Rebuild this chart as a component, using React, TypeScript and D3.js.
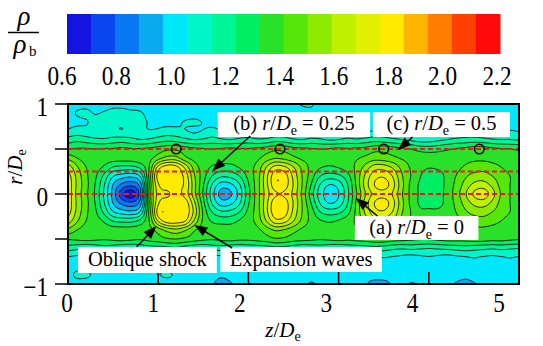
import React, { useMemo } from 'react';
import * as d3 from 'd3';

// grid spacing of the sampled field
const Z_STEP = 0.1;
const R_STEP = 0.1;
const R_TOP = 1;
const FINE = 4; // resample factor used for drawing smooth contours

// rho / rho_b every 0.1 in z (0 .. 5)
// upper half: r = 1.0 down to r = 0.0
const upperRows = [
  [1.01,1.02,1.02,1.01,1.02,1.03,1.02,1.01,1.02,1.02, 1.01,1.00,1.01,1.02,1.01,1.00,1.01,1.02,1.01,1.00, 1.01,1.02,1.01,1.00,1.01,1.03,1.05,1.05,1.02,1.01, 1.01,1.00,1.01,1.02,1.01,1.00,1.01,1.02,1.01,1.00, 1.01,1.02,1.01,1.00,1.01,1.02,1.01,1.00,1.01,1.02, 1.01],
  [1.02,1.05,1.06,1.04,1.05,1.06,1.07,1.06,1.05,1.03, 1.02,1.01,1.02,1.01,1.00,1.01,1.02,1.01,1.00,1.01, 1.02,1.01,1.00,1.01,1.02,1.01,1.02,1.03,1.02,1.01, 1.00,1.01,1.02,1.01,1.00,1.01,1.02,1.01,1.00,1.01, 1.02,1.01,1.00,1.01,1.02,1.01,1.00,1.01,1.02,1.01, 1.00],
  [1.02,1.03,1.04,1.06,1.07,1.05,1.06,1.07,1.06,1.04, 1.03,1.02,1.03,1.05,1.06,1.04,1.02,1.01,1.02,1.03, 1.02,1.01,1.02,1.03,1.02,1.01,1.02,1.02,1.01,1.00, 1.01,1.02,1.01,1.00,1.01,1.02,1.01,1.00,1.01,1.02, 1.01,1.00,1.01,1.02,1.01,1.00,1.01,1.02,1.01,1.00, 1.01],
  [1.06,1.08,1.07,1.06,1.08,1.07,1.05,1.08,1.07,1.05, 1.06,1.08,1.07,1.05,1.03,1.05,1.07,1.05,1.03,1.04, 1.06,1.05,1.03,1.05,1.06,1.04,1.03,1.05,1.04,1.02, 1.03,1.05,1.04,1.03,1.05,1.06,1.04,1.03,1.02,1.02, 1.03,1.04,1.03,1.05,1.06,1.05,1.04,1.03,1.04,1.05, 1.04],
  [1.18,1.20,1.18,1.16,1.15,1.17,1.18,1.16,1.14,1.15, 1.18,1.20,1.19,1.16,1.14,1.15,1.17,1.15,1.14,1.16, 1.17,1.15,1.16,1.19,1.18,1.15,1.14,1.16,1.15,1.13, 1.14,1.16,1.15,1.17,1.19,1.18,1.16,1.14,1.12,1.10, 1.10,1.12,1.14,1.16,1.17,1.18,1.17,1.15,1.14,1.14, 1.13],
  [1.30,1.32,1.32,1.31,1.32,1.32,1.33,1.32,1.32,1.33, 1.35,1.38,1.38,1.35,1.33,1.32,1.31,1.32,1.33,1.32, 1.32,1.33,1.35,1.38,1.37,1.34,1.33,1.32,1.31,1.32, 1.33,1.32,1.33,1.34,1.37,1.37,1.35,1.33,1.31,1.28, 1.27,1.28,1.30,1.32,1.33,1.35,1.35,1.33,1.32,1.31, 1.30],
  [1.46,1.40,1.36,1.35,1.35,1.35,1.35,1.35,1.36,1.37, 1.45,1.52,1.52,1.42,1.37,1.35,1.35,1.35,1.35,1.35, 1.36,1.38,1.44,1.48,1.46,1.42,1.38,1.36,1.35,1.35, 1.36,1.37,1.39,1.42,1.45,1.44,1.42,1.39,1.37,1.36, 1.35,1.35,1.35,1.35,1.37,1.38,1.38,1.37,1.36,1.35, 1.34],
  [1.62,1.50,1.40,1.35,1.30,1.22,1.20,1.20,1.25,1.40, 1.70,1.80,1.78,1.64,1.45,1.36,1.30,1.28,1.28,1.32, 1.37,1.43,1.58,1.70,1.68,1.58,1.46,1.37,1.32,1.30, 1.32,1.36,1.42,1.52,1.62,1.62,1.56,1.46,1.39,1.35, 1.32,1.33,1.35,1.37,1.41,1.44,1.45,1.43,1.40,1.37, 1.36],
  [1.70,1.55,1.42,1.33,1.20,1.05,1.00,0.98,1.05,1.42, 1.80,1.83,1.82,1.72,1.50,1.35,1.22,1.15,1.16,1.22, 1.34,1.45,1.64,1.82,1.80,1.64,1.48,1.35,1.22,1.18, 1.20,1.28,1.43,1.60,1.72,1.74,1.66,1.50,1.40,1.32, 1.25,1.26,1.34,1.40,1.47,1.52,1.53,1.49,1.44,1.40, 1.37],
  [1.72,1.56,1.43,1.31,1.14,0.95,0.84,0.80,0.90,1.40, 1.74,1.80,1.76,1.74,1.52,1.32,1.12,1.00,1.02,1.12, 1.30,1.45,1.64,1.82,1.80,1.66,1.48,1.30,1.12,1.04, 1.08,1.22,1.42,1.62,1.76,1.80,1.70,1.52,1.38,1.30, 1.26,1.26,1.34,1.42,1.52,1.60,1.62,1.56,1.46,1.40, 1.37],
  [1.72,1.55,1.42,1.30,1.12,0.92,0.72,0.64,0.82,1.42, 1.70,1.74,1.78,1.72,1.52,1.30,1.08,0.92,0.94,1.08, 1.28,1.45,1.62,1.74,1.74,1.64,1.46,1.26,1.08,1.00, 1.04,1.20,1.40,1.58,1.70,1.72,1.66,1.50,1.38,1.30, 1.27,1.28,1.34,1.44,1.56,1.68,1.72,1.62,1.48,1.40, 1.37],
];

// lower half: r = -0.1 down to r = -1.0
const lowerRows = [
  [1.72,1.56,1.43,1.31,1.14,0.95,0.84,0.80,0.90,1.40, 1.74,1.80,1.76,1.80,1.60,1.34,1.12,1.00,1.02,1.12, 1.30,1.45,1.64,1.82,1.80,1.66,1.48,1.30,1.12,1.04, 1.08,1.22,1.42,1.62,1.76,1.80,1.70,1.52,1.38,1.30, 1.28,1.28,1.34,1.42,1.52,1.60,1.62,1.56,1.46,1.40, 1.37],
  [1.70,1.55,1.42,1.33,1.20,1.05,1.00,0.98,1.05,1.42, 1.80,1.84,1.82,1.82,1.64,1.38,1.22,1.15,1.16,1.22, 1.34,1.45,1.64,1.82,1.80,1.64,1.48,1.35,1.22,1.18, 1.20,1.28,1.43,1.60,1.72,1.74,1.66,1.50,1.40,1.33, 1.33,1.33,1.35,1.40,1.47,1.52,1.53,1.49,1.44,1.40, 1.37],
  [1.62,1.50,1.40,1.35,1.30,1.22,1.20,1.20,1.25,1.40, 1.68,1.80,1.80,1.76,1.56,1.38,1.30,1.28,1.28,1.32, 1.37,1.43,1.58,1.72,1.70,1.58,1.46,1.37,1.32,1.30, 1.32,1.36,1.42,1.52,1.62,1.62,1.56,1.46,1.39,1.36, 1.35,1.35,1.35,1.37,1.41,1.44,1.45,1.43,1.40,1.37, 1.36],
  [1.46,1.40,1.36,1.35,1.35,1.35,1.35,1.35,1.36,1.37, 1.44,1.52,1.55,1.50,1.41,1.36,1.35,1.35,1.35,1.35, 1.36,1.38,1.44,1.50,1.48,1.43,1.38,1.36,1.35,1.35, 1.36,1.37,1.39,1.42,1.45,1.44,1.42,1.39,1.37,1.36, 1.35,1.35,1.35,1.36,1.37,1.38,1.38,1.37,1.36,1.35, 1.34],
  [1.32,1.33,1.34,1.33,1.32,1.33,1.34,1.33,1.32,1.34, 1.36,1.39,1.40,1.38,1.35,1.33,1.32,1.33,1.34,1.33, 1.33,1.34,1.36,1.39,1.38,1.35,1.34,1.33,1.32,1.33, 1.34,1.33,1.34,1.35,1.37,1.37,1.35,1.34,1.33,1.32, 1.32,1.33,1.34,1.34,1.34,1.35,1.35,1.34,1.34,1.33, 1.32],
  [1.18,1.16,1.14,1.16,1.18,1.17,1.15,1.14,1.16,1.18, 1.19,1.20,1.21,1.18,1.16,1.15,1.17,1.18,1.16,1.15, 1.16,1.17,1.18,1.20,1.19,1.17,1.15,1.16,1.17,1.15, 1.14,1.16,1.17,1.18,1.19,1.18,1.16,1.15,1.16,1.15, 1.14,1.15,1.16,1.17,1.18,1.17,1.16,1.15,1.16,1.15, 1.14],
  [1.04,1.03,1.05,1.04,1.03,1.04,1.05,1.03,1.02,1.04, 1.05,1.04,1.03,1.04,1.05,1.03,1.02,1.03,1.04,1.03, 1.02,1.03,1.04,1.05,1.04,1.03,1.02,1.03,1.04,1.03, 1.02,1.03,1.04,1.03,1.04,1.05,1.04,1.03,1.02,1.03, 1.04,1.03,1.02,1.03,1.04,1.05,1.04,1.03,1.04,1.05, 1.04],
  [1.01,1.02,1.01,1.00,1.01,1.02,1.01,1.00,1.01,1.02, 1.01,1.00,1.01,1.02,1.01,1.00,1.01,1.02,1.01,1.00, 1.01,1.02,1.01,1.00,1.01,1.02,1.01,1.00,1.01,1.02, 1.01,1.00,1.01,1.02,1.01,1.00,1.01,1.02,1.01,1.00, 1.01,1.02,1.01,1.00,1.01,1.02,1.01,1.00,1.01,1.02, 1.01],
  [1.02,1.06,1.06,1.03,1.01,1.00,1.00,0.99,1.00,1.02, 1.04,1.06,1.03,1.01,1.00,0.99,0.98,0.97,0.98,0.99, 1.00,1.00,0.99,0.98,0.99,1.00,0.99,0.98,0.99,1.00, 0.99,0.98,0.97,0.98,0.99,0.98,0.98,0.99,1.00,0.99, 0.98,0.99,1.00,0.99,0.98,0.99,1.00,0.99,0.98,0.99, 1.00],
  [1.00,1.01,1.00,0.99,0.98,0.97,0.98,0.99,1.00,0.99, 0.98,0.99,1.00,0.99,0.98,0.97,0.96,0.93,0.95,0.97, 0.98,0.99,0.98,0.97,0.98,0.99,0.97,0.95,0.97,0.98, 0.97,0.96,0.97,0.96,0.93,0.94,0.96,0.97,0.95,0.96, 0.97,0.98,0.97,0.95,0.93,0.95,0.97,0.98,0.97,0.98, 0.99],
];

// colour levels of the legend (18 bands from 0.6 to 2.2)
const levelEdges = [0.6, 0.6889, 0.7778, 0.8667, 0.9556, 1.0444, 1.1333, 1.2222, 1.3111, 1.4,
  1.4889, 1.5778, 1.6667, 1.7556, 1.8444, 1.9333, 2.0222, 2.1111, 2.2];
const bandColors = ['#1414e0', '#0a46f0', '#0a78f5', '#0aaaf0', '#00e6fa', '#00f5c8', '#00f596',
  '#00ee64', '#28e128', '#55e60a', '#8ceb00', '#bef000', '#e1f000', '#ffeb00', '#ffb400',
  '#ff7d00', '#ff4100', '#ff0a0a'];
const barTicks = [0.6, 0.8, 1.0, 1.2, 1.4, 1.6, 1.8, 2.0, 2.2];

const xTicks = [0, 1, 2, 3, 4, 5];
const yTicks = [-1, -0.5, 0, 0.5, 1];
const yTickLabels = [1, 0, -1];

// sampling lines and marked points
const probeLines = [0, 0.25, 0.5];
const markerZ = [1.2, 2.35, 3.5, 4.56];

const FONT = '"Liberation Serif", Tinos, "Times New Roman", Times, "DejaVu Serif", "Noto Serif", FreeSerif, serif';

function catmull(p0: number, p1: number, p2: number, p3: number, t: number) {
  return 0.5 * (2 * p1 + (-p0 + p2) * t + (2 * p0 - 5 * p1 + 4 * p2 - p3) * t * t +
    (-p0 + 3 * p1 - 3 * p2 + p3) * t * t * t);
}

// resample the grid so contour lines come out smooth
function refine(grid: number[][], f: number) {
  const nr = grid.length, nc = grid[0].length;
  const wide = grid.map((row) => {
    const at = (i: number) => row[Math.max(0, Math.min(nc - 1, i))];
    const out: number[] = [];
    for (let j = 0; j <= (nc - 1) * f; j++) {
      const i = Math.floor(j / f), t = j / f - i;
      out.push(t === 0 ? row[i] : catmull(at(i - 1), at(i), at(i + 1), at(i + 2), t));
    }
    return out;
  });
  const cols = wide[0].length;
  const rows = (nr - 1) * f + 1;
  const values = new Array(cols * rows);
  for (let k = 0; k < rows; k++) {
    const i = Math.floor(k / f), t = k / f - i;
    for (let j = 0; j < cols; j++) {
      const c = (ii: number) => wide[Math.max(0, Math.min(nr - 1, ii))][j];
      values[k * cols + j] = t === 0 ? wide[i][j] : catmull(c(i - 1), c(i), c(i + 1), c(i + 2), t);
    }
  }
  return { values, cols, rows };
}

function arrow(x1: number, y1: number, x2: number, y2: number) {
  const len = 13, half = 5;
  const dx = x2 - x1, dy = y2 - y1, L = Math.hypot(dx, dy);
  const ux = dx / L, uy = dy / L;
  const bx = x2 - ux * len, by = y2 - uy * len;
  return {
    line: [x1, y1, bx + ux * 2, by + uy * 2],
    head: `M${x2},${y2}L${bx + uy * half},${by - ux * half}L${bx - uy * half},${by + ux * half}Z`,
  };
}

const RText = ({ prefix, value }: { prefix: string; value: string }) => (
  <>
    {prefix}
    <tspan fontStyle="italic">r</tspan>/<tspan fontStyle="italic">D</tspan>
    <tspan fontSize={14} dy={5}>e</tspan>
    <tspan dy={-5}>{` = ${value}`}</tspan>
  </>
);

export default function App() {
  const width = 543, height = 346;
  const plot = { left: 68, right: 519, top: 104, bottom: 284 };

  const x = d3.scaleLinear().domain([0, 5]).range([plot.left, plot.right]);
  const y = d3.scaleLinear().domain([-1, 1]).range([plot.bottom, plot.top]);
  const bar = d3.scaleLinear().domain([0.6, 2.2]).range([67, 500]);
  const barLabel = d3.scaleLinear().domain([0.6, 2.2]).range([62, 497]);
  const xLabel = d3.scaleLinear().domain([0, 5]).range([67, 499]);

  const field = useMemo(() => refine([...upperRows, ...lowerRows], FINE), []);
  const contours = useMemo(
    () => d3.contours().size([field.cols, field.rows]).thresholds(levelEdges.slice(0, -1))(field.values),
    [field]
  );

  const path = d3.geoPath(
    d3.geoTransform({
      point(px: number, py: number) {
        // @ts-ignore
        this.stream.point(x(((px - 0.5) * Z_STEP) / FINE), y(R_TOP - ((py - 0.5) * R_STEP) / FINE));
      },
    })
  );

  // annotation boxes and arrows, in data units
  const boxes = [
    { z0: 1.66, z1: 3.35, r0: 0.911, r1: 0.633, prefix: '(b) ', value: '0.25', tail: [2.02, 0.644], tip: [1.6, 0.256] },
    { z0: 3.38, z1: 4.9, r0: 0.911, r1: 0.633, prefix: '(c) ', value: '0.5', tail: [3.82, 0.633], tip: [3.66, 0.489] },
    { z0: 3.18, z1: 4.55, r0: -0.244, r1: -0.511, prefix: '(a) ', value: '0', tail: [3.43, -0.244], tip: [3.19, -0.044] },
  ];
  const plainBoxes = [
    { z0: 0.11, z1: 1.65, r0: -0.589, r1: -0.878, label: 'Oblique shock', tail: [0.76, -0.589], tip: [0.98, -0.356] },
    { z0: 1.69, z1: 3.48, r0: -0.589, r1: -0.867, label: 'Expansion waves', tail: [1.82, -0.6], tip: [1.4, -0.344] },
  ];

  const arrows = [...boxes, ...plainBoxes].map((b) =>
    arrow(x(b.tail[0]), y(b.tail[1]), x(b.tip[0]), y(b.tip[1]))
  );

  const serif = { fontFamily: FONT };

  return (
    <svg width={width} height={height} style={{ position: 'absolute', left: 0, top: 0, background: '#fff', ...serif }}>
      <defs>
        <clipPath id="plotClip">
          <rect x={plot.left} y={plot.top} width={plot.right - plot.left} height={plot.bottom - plot.top} />
        </clipPath>
      </defs>

      {/* colour bar */}
      <text x={24} y={25} fontSize={27} fontStyle="italic" textAnchor="middle" style={serif}>ρ</text>
      <line x1={8} x2={39} y1={32.5} y2={32.5} stroke="#000" strokeWidth={1.5} />
      <text x={20} y={53} fontSize={27} fontStyle="italic" textAnchor="middle" style={serif}>ρ</text>
      <text x={29} y={56} fontSize={15} style={serif}>b</text>
      {bandColors.map((c, i) => (
        <rect key={i} x={bar(levelEdges[i])} y={14} width={bar(levelEdges[i + 1]) - bar(levelEdges[i]) + 0.5}
          height={40} fill={c} />
      ))}
      {barTicks.map((t) => (
        <text key={t} transform={`translate(${barLabel(t)},85) scale(0.86,1)`} fontSize={27} textAnchor="middle"
          style={serif}>
          {t.toFixed(1)}
        </text>
      ))}

      {/* contour map */}
      <g clipPath="url(#plotClip)">
        {contours.map((c, i) => (
          <path key={i} d={path(c) || ''} fill={bandColors[i]} />
        ))}
        {contours.slice(1).map((c, i) => (
          <path key={i} d={path(c) || ''} fill="none" stroke="#000" strokeWidth={0.8} />
        ))}
        {probeLines.map((r) => (
          <line key={r} x1={plot.left} x2={plot.right} y1={y(r)} y2={y(r)} stroke="#e0201c"
            strokeWidth={2.2} strokeDasharray="5,3" />
        ))}
        {markerZ.map((z) => (
          <circle key={z} cx={x(z)} cy={y(0.5)} r={4.8} fill="none" stroke="#000" strokeWidth={1.6} />
        ))}
        {xTicks.map((t) => (
          <line key={t} x1={x(t)} x2={x(t)} y1={plot.bottom} y2={plot.bottom - 12} stroke="#000" strokeWidth={1.5} />
        ))}
      </g>

      {/* annotations */}
      {boxes.map((b, i) => (
        <g key={i}>
          <rect x={x(b.z0)} y={y(b.r0)} width={x(b.z1) - x(b.z0)} height={y(b.r1) - y(b.r0)} fill="#fff" />
          <text x={(x(b.z0) + x(b.z1)) / 2} y={y(b.r0) + 18} fontSize={20.5} textAnchor="middle"
            style={{ whiteSpace: 'pre', ...serif }}>
            <RText prefix={b.prefix} value={b.value} />
          </text>
        </g>
      ))}
      {plainBoxes.map((b, i) => (
        <g key={i}>
          <rect x={x(b.z0)} y={y(b.r0)} width={x(b.z1) - x(b.z0)} height={y(b.r1) - y(b.r0)} fill="#fff" />
          <text x={(x(b.z0) + x(b.z1)) / 2} y={y(b.r0) + 19} fontSize={20.5} textAnchor="middle" style={serif}>
            {b.label}
          </text>
        </g>
      ))}
      {arrows.map((a, i) => (
        <g key={i}>
          <line x1={a.line[0]} y1={a.line[1]} x2={a.line[2]} y2={a.line[3]} stroke="#000" strokeWidth={1.5} />
          <path d={a.head} fill="#000" />
        </g>
      ))}

      {/* frame and axes */}
      <rect x={plot.left} y={plot.top} width={plot.right - plot.left} height={plot.bottom - plot.top}
        fill="none" stroke="#000" strokeWidth={2} />
      {yTicks.map((t) => (
        <line key={t} x1={plot.left - 13} x2={plot.left} y1={y(t)} y2={y(t)} stroke="#000" strokeWidth={1.5} />
      ))}
      {yTickLabels.map((t) => (
        <text key={t} transform={`translate(48,${y(t) + 12}) scale(0.86,1)`} fontSize={27} textAnchor="end"
          style={serif}>
          {t < 0 ? `−${-t}` : t}
        </text>
      ))}
      {xTicks.map((t) => (
        <text key={t} transform={`translate(${xLabel(t)},312) scale(0.86,1)`} fontSize={27} textAnchor="middle"
          style={serif}>
          {t}
        </text>
      ))}
      <text x={283} y={337} fontSize={21} textAnchor="middle" style={serif}>
        <tspan fontStyle="italic">z</tspan>/<tspan fontStyle="italic">D</tspan>
        <tspan fontSize={14} dy={4}>e</tspan>
      </text>
      <text transform="translate(22,167) rotate(-90)" fontSize={21} textAnchor="middle" style={serif}>
        <tspan fontStyle="italic">r</tspan>/<tspan fontStyle="italic">D</tspan>
        <tspan fontSize={14} dy={4}>e</tspan>
      </text>
    </svg>
  );
}
